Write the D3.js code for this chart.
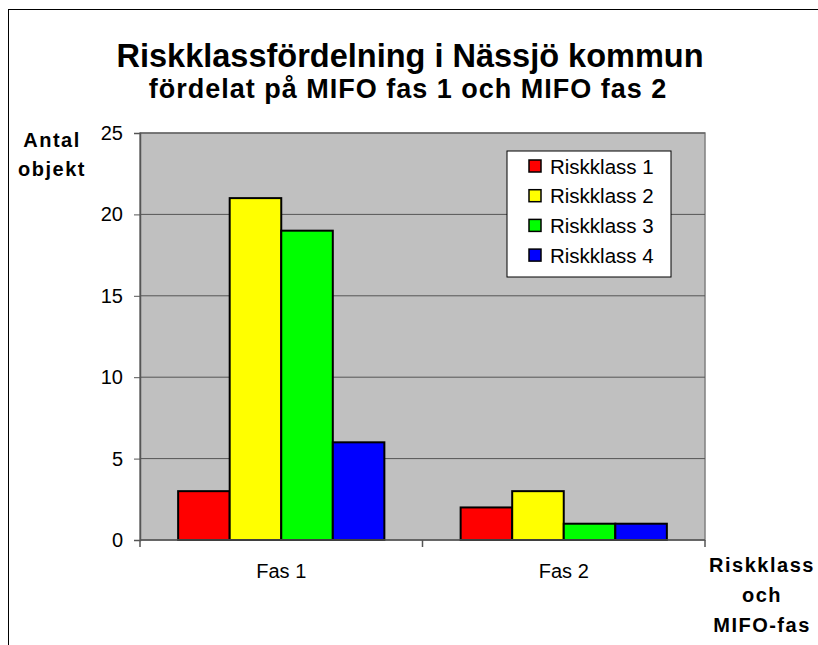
<!DOCTYPE html>
<html>
<head>
<meta charset="utf-8">
<script src="https://cdn.jsdelivr.net/npm/d3@7"></script>
<style>
  body { margin: 0; background: #fff; }
  text { font-family: "Liberation Sans", Arial, sans-serif; fill: #000; }
</style>
</head>
<body>
<script>
// data
var phases = ["Fas 1", "Fas 2"];
var classes = ["Riskklass 1", "Riskklass 2", "Riskklass 3", "Riskklass 4"];
var counts = [
  [3, 21, 19, 6],   // Fas 1
  [2, 3, 1, 1]      // Fas 2
];
var colors = ["#ff0000", "#ffff00", "#00ff00", "#0000ff"];
var yTicks = [0, 5, 10, 15, 20, 25];

var W = 818, H = 645;
var plot = {left: 140, right: 705, top: 133, bottom: 540};

var svg = d3.select("body").append("svg")
  .attr("width", W)
  .attr("height", H);

// outer frame (runs off the right and bottom edge)
svg.append("rect")
  .attr("x", 8.5).attr("y", 9.5)
  .attr("width", W + 20).attr("height", H + 20)
  .attr("fill", "none").attr("stroke", "#000").attr("stroke-width", 1);

// scales
var x0 = d3.scaleBand().domain(phases)
  .range([plot.left, plot.right])
  .paddingInner(0.27).paddingOuter(0.135);
var x1 = d3.scaleBand().domain(classes).range([0, x0.bandwidth()]);
var y = d3.scaleLinear().domain([0, 25]).range([plot.bottom, plot.top]);

// plot background
svg.append("rect")
  .attr("x", plot.left).attr("y", plot.top)
  .attr("width", plot.right - plot.left).attr("height", plot.bottom - plot.top)
  .attr("fill", "#c0c0c0").attr("stroke", "#808080").attr("stroke-width", 1.5);

// gridlines
svg.append("g").selectAll("line")
  .data(yTicks.filter(function(d) { return d > 0; }))
  .enter().append("line")
    .attr("x1", plot.left).attr("x2", plot.right)
    .attr("y1", function(d) { return y(d); })
    .attr("y2", function(d) { return y(d); })
    .attr("stroke", "#555").attr("stroke-width", 1);

// bars
var groups = svg.append("g").selectAll("g")
  .data(counts)
  .enter().append("g")
    .attr("transform", function(d, i) { return "translate(" + x0(phases[i]) + ",0)"; });

groups.selectAll("rect")
  .data(function(d) { return d; })
  .enter().append("rect")
    .attr("x", function(d, i) { return x1(classes[i]); })
    .attr("y", function(d) { return y(d); })
    .attr("width", x1.bandwidth())
    .attr("height", function(d) { return y(0) - y(d); })
    .attr("fill", function(d, i) { return colors[i]; })
    .attr("stroke", "#000").attr("stroke-width", 2);

// y axis
var yAxis = d3.axisLeft(y).tickValues(yTicks).tickSize(6).tickPadding(11);
var gy = svg.append("g")
  .attr("transform", "translate(" + plot.left + ",0)")
  .call(yAxis);
gy.select(".domain").attr("stroke", "#555").attr("stroke-width", 1.5);
gy.selectAll(".tick line").attr("stroke", "#555");
gy.selectAll(".tick text")
  .style("font-family", "Liberation Sans, Arial, sans-serif")
  .style("font-size", "20px").attr("fill", "#000");

// x axis line and category ticks at boundaries
svg.append("line")
  .attr("x1", plot.left).attr("x2", plot.right)
  .attr("y1", plot.bottom).attr("y2", plot.bottom)
  .attr("stroke", "#555").attr("stroke-width", 1.5);
var bounds = [plot.left].concat(phases.map(function(p) { return x0(p) + x0.bandwidth() + x0.step() * x0.paddingInner() / 2; }));
svg.append("g").selectAll("line")
  .data(bounds)
  .enter().append("line")
    .attr("x1", function(d) { return d; }).attr("x2", function(d) { return d; })
    .attr("y1", plot.bottom).attr("y2", plot.bottom + 7)
    .attr("stroke", "#555").attr("stroke-width", 1.5);

svg.append("g").selectAll("text")
  .data(phases)
  .enter().append("text")
    .attr("x", function(d) { return x0(d) + x0.bandwidth() / 2; })
    .attr("y", 578)
    .attr("text-anchor", "middle")
    .style("font-size", "20px")
    .text(function(d) { return d; });

// titles
svg.append("text")
  .attr("x", 410).attr("y", 67)
  .attr("text-anchor", "middle")
  .style("font-size", "32.5px").style("font-weight", "bold")
  .text("Riskklassfördelning i Nässjö kommun");
svg.append("text")
  .attr("x", 408).attr("y", 98)
  .attr("text-anchor", "middle")
  .style("font-size", "27px").style("font-weight", "bold")
  .style("letter-spacing", "1px")
  .text("fördelat på MIFO fas 1 och MIFO fas 2");

// axis titles
svg.append("text")
  .attr("text-anchor", "middle")
  .style("font-size", "20px").style("font-weight", "bold")
  .style("letter-spacing", "1.5px")
  .selectAll("tspan")
  .data(["Antal", "objekt"])
  .enter().append("tspan")
    .attr("x", 52)
    .attr("y", function(d, i) { return 147 + i * 29; })
    .text(function(d) { return d; });

svg.append("text")
  .attr("text-anchor", "middle")
  .style("font-size", "20px").style("font-weight", "bold")
  .style("letter-spacing", "1.5px")
  .selectAll("tspan")
  .data(["Riskklass", "och", "MIFO-fas"])
  .enter().append("tspan")
    .attr("x", 762)
    .attr("y", function(d, i) { return 572 + i * 30; })
    .text(function(d) { return d; });

// legend
var legend = svg.append("g").attr("transform", "translate(507,151)");
legend.append("rect")
  .attr("width", 164).attr("height", 126)
  .attr("fill", "#fff").attr("stroke", "#000").attr("stroke-width", 1);
var items = legend.selectAll(".item")
  .data(classes)
  .enter().append("g")
    .attr("class", "item")
    .attr("transform", function(d, i) { return "translate(0," + (15 + i * 29.7) + ")"; });
items.append("rect")
  .attr("x", 22).attr("y", -6)
  .attr("width", 12).attr("height", 12)
  .attr("fill", function(d, i) { return colors[i]; })
  .attr("stroke", "#000").attr("stroke-width", 1.5);
items.append("text")
  .attr("x", 43).attr("y", 7.5)
  .style("font-size", "20.5px")
  .text(function(d) { return d; });
</script>
</body>
</html>
